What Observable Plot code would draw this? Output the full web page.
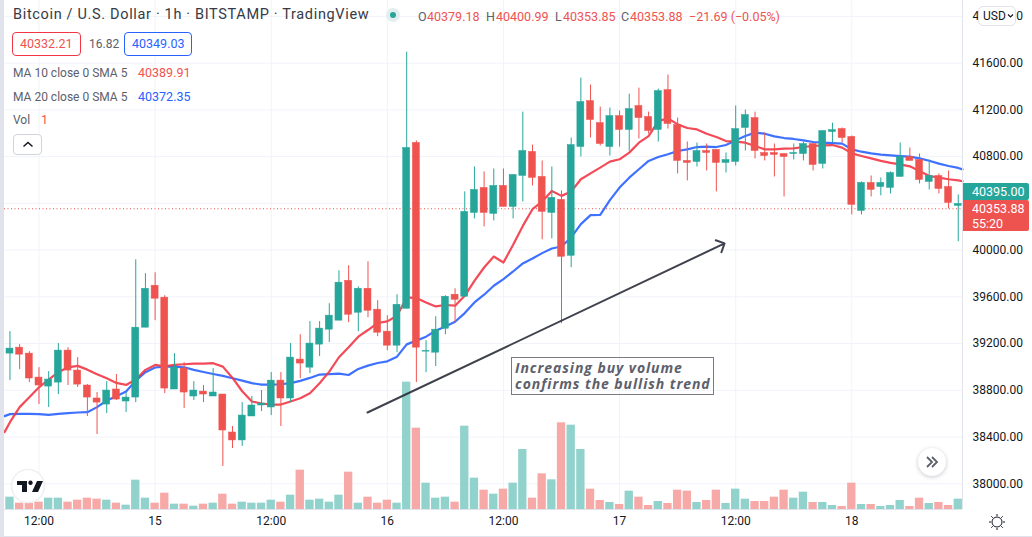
<!DOCTYPE html>
<html><head><meta charset="utf-8">
<script src="https://cdn.jsdelivr.net/npm/d3@7"></script>
<script src="https://cdn.jsdelivr.net/npm/@observablehq/plot@0.6"></script>
<style>
html,body{margin:0;padding:0;background:#fff;overflow:hidden}
#c{position:relative;width:1032px;height:537px;overflow:hidden;font-family:Roboto,sans-serif;color:#131722}
#c svg{display:block}
.h{position:absolute;white-space:nowrap;line-height:1}
.box{position:absolute;box-sizing:border-box;border-radius:4px;background:#fff}
</style></head><body><div id="c"></div>
<script>
const open = [39114,39165,39114,38909,38832,38866,39140,38969,38841,38730,38678,38807,38704,38738,39336,39695,39593,38807,38986,38747,38789,38747,38764,38439,38371,38576,38670,38653,38883,38730,39063,38994,39191,39319,39396,
39737,39464,39669,39490,39302,39182,39498,40917,39131,39122,39327,39618,39601,40318,40532,40310,40549,40370,40635,40840,40626,40318,40430,39951,40882,41275,41087,40882,41147,41028,41233,41139,41028,41369,
41070,40763,40754,40848,40857,40746,40754,41045,41130,40831,40831,40822,40822,40822,40908,40737,41010,41036,40968,40335,40575,40540,40532,40626,40797,40771,40583,40634,40540,40378];
const close = [39157,39105,38901,38841,38892,39140,38969,38849,38738,38695,38798,38721,38738,39336,39669,39584,38815,38994,38781,38798,38764,38781,38456,38371,38584,38670,38687,38883,38730,39080,39029,39200,39328,39439,39721,
39447,39669,39481,39293,39182,39532,40874,39165,39137,39319,39601,39575,40327,40515,40318,40549,40370,40643,40848,40618,40327,40447,39943,40899,41267,41113,40908,41147,41028,41207,41130,41019,41361,41079,
40763,40746,40848,40831,40746,40771,41036,41156,40848,40805,40814,40797,40831,40908,40728,41019,41027,40959,40387,40575,40515,40575,40660,40797,40763,40600,40634,40523,40404,40395];
const high = [39302,39191,39131,38994,38960,39200,39165,39080,38849,38781,38875,38935,38781,39917,39798,39806,39610,39114,39037,38875,38841,38986,38764,38490,38695,38747,38798,38952,38952,39200,39276,39388,39388,39541,39823,
39866,39686,39900,39567,39438,39618,41694,40934,39225,39430,39609,39669,40498,40711,40669,40694,40694,40643,41181,40899,40763,40711,40506,40959,41472,41412,41224,41216,41190,41335,41386,41181,41378,41498,
41130,40925,40916,40908,40857,40831,41233,41198,41181,41002,40908,40822,40908,40925,40908,41019,41087,41045,40976,40583,40634,40617,40669,40916,40874,40822,40771,40652,40677,40472];
const low = [38883,38977,38866,38678,38653,38764,38841,38824,38576,38422,38601,38713,38610,38695,39336,39396,38772,38807,38644,38713,38695,38747,38149,38302,38320,38576,38618,38584,38490,38695,38900,38943,39089,39208,39396,
39379,39302,39421,39259,39139,39122,39498,38866,38951,39003,39276,39379,39601,40267,40199,40250,40370,40267,40412,40549,40088,40096,39370,39849,40797,40959,40891,40805,40882,40848,40951,40993,40925,41036,
40652,40592,40711,40677,40498,40660,40720,40848,40780,40763,40626,40455,40771,40763,40677,40694,40916,40916,40301,40301,40455,40464,40481,40626,40763,40566,40515,40481,40353,40071];
const volume = [37,19,19,22,34,34,22,28,34,31,28,19,13,88,34,19,49,16,16,10,16,19,46,16,22,19,19,28,22,43,118,28,31,22,43,112,19,37,19,28,19,382,244,79,34,37,22,250,94,58,46,
61,79,180,34,107,89,260,253,180,61,27,21,15,55,37,12,24,18,58,55,21,27,58,18,61,31,24,24,37,58,34,52,21,21,12,9,79,15,15,9,12,27,9,34,18,21,12,31];
const ma10 = [38442,38527,38656,38741,38826,38892,38955,38997,39009,38977,38938,38903,38863,38846,38892,38975,39017,39006,39017,39023,39029,39029,39032,39003,38906,38792,38704,38687,38678,38678,38704,38732,38775,38861,38960,39083,
39168,39259,39316,39376,39390,39438,39595,39589,39552,39518,39530,39524,39609,39737,39851,39945,39894,40045,40207,40350,40415,40506,40464,40501,40606,40657,40706,40757,40777,40834,40919,40976,41104,41127,
41076,41045,41033,40996,40968,40933,40928,40919,40891,40862,40862,40868,40871,40882,40891,40896,40899,40877,40828,40805,40785,40763,40746,40734,40717,40677,40634,40620,40606,40597,40589];
const ma20 = [38579,38596,38599,38599,38596,38590,38599,38604,38610,38613,38656,38713,38750,38789,38883,38955,38995,39003,39003,38997,38975,38957,38940,38923,38903,38883,38861,38849,38849,38852,38861,38881,38906,38935,38938,38943,
38931,38983,39011,39034,39048,39088,39193,39225,39259,39310,39347,39387,39461,39552,39618,39695,39752,39817,39886,39928,39974,40014,40031,40108,40222,40299,40301,40427,40535,40620,40692,40763,40797,40820,
40848,40862,40882,40885,40882,40899,40939,40976,41005,40996,40973,40959,40951,40939,40925,40919,40916,40911,40862,40842,40828,40817,40811,40805,40800,40785,40765,40740,40720,40703,40691];
const gridPrices = [38000,38400,38800,39200,39600,40000,40400,40800,41200,41600,42000];
const priceLabels = [38000,38400,38800,39200,39600,40000,40800,41200,41600,42000];
const timeTicks = [3,15,27,39,51,63,75,87];
const timeLabels = ["12:00","15","12:00","16","12:00","17","12:00","18"];
const lastPrice = 40353.88;
const trendArrow = [{i1:36.95,p1:38610,i2:73.85,p2:40057}];
const volUnit = 2.853, volBase = 37780;

const UP="#26a69a", DOWN="#ef5350", GRID="#f0f3fa", EDGE="#e0e3eb";
const rows = open.map((o,i)=>({i,o,c:close[i],h:high[i],l:low[i],v:volume[i]}));
const isUp = d=>d.c>=d.o;
const maX = k=>k===0?-0.565:k===ma10.length-1?98.44:k-1;
const ma10Rows = ma10.map((p,k)=>({i:maX(k),p}));
const ma20Rows = ma20.map((p,k)=>({i:maX(k),p}));

const plot = Plot.plot({
  width:1032,height:537,marginTop:0,marginBottom:28,marginLeft:4,marginRight:70,
  style:{background:"transparent",fontFamily:"Roboto,sans-serif",fontSize:"12px",color:"#131722"},
  x:{type:"linear",domain:[-0.565,98.44],range:[4,962],label:null},
  y:{type:"linear",domain:[volBase,42136],range:[509,0],label:null},
  marks:[
    Plot.gridX(timeTicks,{stroke:GRID,strokeOpacity:1}),
    Plot.gridY(gridPrices,{stroke:GRID,strokeOpacity:1}),
    Plot.rect(rows,{x1:d=>d.i-0.43,x2:d=>d.i+0.43,y1:volBase,y2:d=>volBase+d.v*volUnit,
      fill:d=>isUp(d)?"#92d2cc":"#f7a9a7"}),
    Plot.ruleY([lastPrice],{stroke:DOWN,strokeDasharray:"1 2.5",strokeWidth:1}),
    Plot.line(ma20Rows,{x:"i",y:"p",stroke:"#2962ff",strokeWidth:2.2,curve:"linear",strokeOpacity:.9}),
    Plot.line(ma10Rows,{x:"i",y:"p",stroke:"#f23645",strokeWidth:2.2,curve:"linear",strokeOpacity:.9}),
    Plot.ruleX(rows,{x:"i",y1:"l",y2:"h",stroke:d=>isUp(d)?UP:DOWN,strokeWidth:1}),
    Plot.rect(rows,{x1:d=>d.i-0.36,x2:d=>d.i+0.36,y1:"o",y2:"c",fill:d=>isUp(d)?UP:DOWN,stroke:d=>isUp(d)?UP:DOWN,strokeWidth:.5}),
    Plot.arrow(trendArrow,{x1:"i1",y1:"p1",x2:"i2",y2:"p2",stroke:"#2a2e39",strokeOpacity:.9,strokeWidth:2,headLength:7,headAngle:90,bend:0}),
    Plot.ruleX([98.44],{stroke:EDGE}),
    Plot.ruleY([volBase],{stroke:EDGE}),
    Plot.axisY(priceLabels,{anchor:"right",tickSize:0,tickPadding:10,tickFormat:d=>d.toFixed(2),label:null,fontSize:12,fill:"#131722"}),
    Plot.axisX(timeTicks,{anchor:"bottom",tickSize:0,tickPadding:7,tickFormat:d=>timeLabels[timeTicks.indexOf(d)],label:null,fontSize:12,fill:"#131722"})
  ]
});
const c=document.getElementById("c");
c.append(plot);
function T(x,y,s,col,fs,extra){const e=document.createElement("div");e.className="h";e.textContent=s;e.style.cssText=`left:${x}px;top:${y}px;color:${col};font-size:${fs}px;${extra||""}`;c.append(e);return e}
function B(x,y,w,h,css){const e=document.createElement("div");e.className="box";e.style.cssText=`left:${x}px;top:${y}px;width:${w}px;height:${h}px;${css}`;c.append(e);return e}
B(0,0,4,537,"background:#e0e3eb;border-radius:0");
B(0,535.5,1032,2,"background:#e0e3eb;border-radius:0");
const R="#ef5350",BL="#2962ff";
T(13,8,"Bitcoin / U.S. Dollar · 1h · BITSTAMP · TradingView","#363a45",14.5,"letter-spacing:.66px");
B(386,8,14,14,"background:#e3eeee;border-radius:50%");
B(390,12,6,6,"background:#26a69a;border-radius:50%");
T(418,11,"O","#5d606b",12.5);T(427,11,"40379.18",R,12.5);
T(486,11,"H","#5d606b",12.5);T(496,11,"40400.99",R,12.5);
T(555,11,"L","#5d606b",12.5);T(563,11,"40353.85",R,12.5);
T(621,11,"C","#5d606b",12.5);T(630,11,"40353.88",R,12.5);
T(689,11,"−21.69 (−0.05%)",R,12.5);
B(12,32,69,24,"border:1px solid #f23645");T(20,38,"40332.21",R,12.5);
T(89,38,"16.82","#5d606b",12);
B(124,32,68,24,"border:1px solid #2962ff");T(132,38,"40349.03",BL,12.5);
T(13,67,"MA 10 close 0 SMA 5","#5d606b",12);T(138,67,"40389.91",R,12.5);
T(13,91,"MA 20 close 0 SMA 5","#5d606b",12);T(138,91,"40372.35",BL,12.5);
T(13,114,"Vol","#5d606b",12);T(41,114,"1",R,12.5);
B(13,134,29,21,"border:1px solid #d1d4dc");
c.insertAdjacentHTML("beforeend",`<svg style="position:absolute;left:22px;top:140px" width="12" height="9"><path d="M1.5 6.5L6 2.5L10.5 6.5" fill="none" stroke="#131722" stroke-width="1.5"/></svg>`);
B(511,357,203,38,"background:transparent;border:1px solid #787b86;border-radius:0");
const noteCss="font-family:'Open Sans';font-style:italic;font-weight:700;letter-spacing:.93px";
T(515,361,"Increasing buy volume","#5d606b",14,noteCss);
T(515,377,"confirms the bullish trend","#5d606b",14,noteCss);
B(963,183,66,17,"background:#26a69a;border-radius:0 2px 2px 0");
T(972,186,"40395.00","#fff",12.5);
B(963,200,66,31,"background:#ef5350;border-radius:0 2px 2px 0");
T(972,203,"40353.88","#fff",12.5);T(972,218,"55:20","#fff",12.5);
B(978,6,38,20,"border:1px solid #e0e3eb;border-radius:5px");T(983,10,"USD","#131722",12);
c.insertAdjacentHTML("beforeend",`<svg style="position:absolute;left:1007px;top:13px" width="7" height="6"><path d="M1 1.5L3.5 4L6 1.5" fill="none" stroke="#131722" stroke-width="1.2"/></svg>`);
c.insertAdjacentHTML("beforeend",`<svg style="position:absolute;left:10px;top:468px" width="36" height="36"><circle cx="18" cy="18" r="16.5" fill="#fff" stroke="#f0f0f3" stroke-width="1.5"/><path d="M7 13H17V24H12V17H7Z M20.5 17a2.2 2.2 0 1 1 .01 0Z M22 24L27 13H33L28 24Z" fill="#131722"/></svg>`);
c.insertAdjacentHTML("beforeend",`<svg style="position:absolute;left:912px;top:442px" width="40" height="40"><circle cx="20" cy="20" r="14" fill="#fff" style="filter:drop-shadow(0 1px 2px #c6c8d0)"/><path d="M15 15L20 20L15 25M20 15L25 20L20 25" fill="none" stroke="#5d606b" stroke-width="1.8"/></svg>`);
c.insertAdjacentHTML("beforeend",`<svg style="position:absolute;left:987px;top:512px" width="20" height="20" stroke="#131722" fill="none"><circle cx="10" cy="10" r="5"/><path d="M10 2V4M10 16V18M2 10H4M16 10H18M4.3 4.3L5.8 5.8M14.2 14.2L15.7 15.7M4.3 15.7L5.8 14.2M14.2 5.8L15.7 4.3"/></svg>`);
</script></body></html>
